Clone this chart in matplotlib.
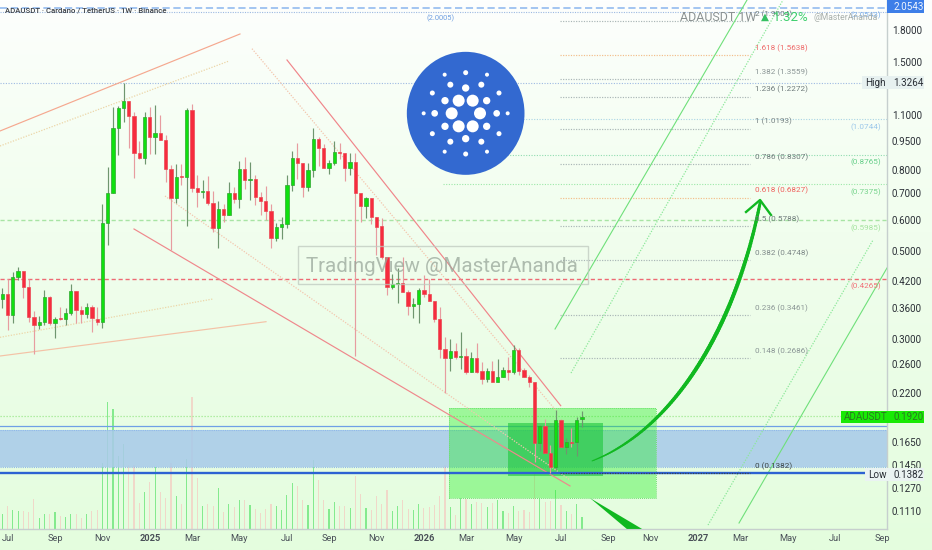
import numpy as np
import matplotlib
matplotlib.use("Agg")
import matplotlib.pyplot as plt
from matplotlib.patches import Rectangle, Ellipse, Circle, Polygon
from matplotlib.transforms import Affine2D
from matplotlib.collections import LineCollection
from matplotlib.ticker import NullLocator

plt.rcParams['font.family'] = ['Roboto', 'DejaVu Sans']

# ---------- data: weekly ADAUSDT candles, week 0 = 24 Jun 2024 ----------
opens = [.3784,.3903,.3456,.4299,.4452,.4057,.3422,.3261,.3325,.3829,.3293,.3389,.3370,.3503,.3964,.3557,.3469,.3627,.3383,.3325,.5881,.6999,1.0204,1.1503,1.1957,1.0982,.8826,.8574,1.0918,.9685,
.9912,.9536,.8044,.6799,.7724,.7679,1.1349,.7205,.7039,.7094,.6604,.5735,.6378,.6172,.6999,.6759,.8044,.7576,.7591,.6838,.6681,.6317,.5412,.5746,.5847,.7360,.8574,.8329,.7247,.8013,
.9610,.9086,.8091,.8329,.8895,.8861,.8091,.8377,.6999,.6516,.6799,.6089,.5791,.4828,.4073,.4136,.4152,.3941,.3648,.3676,.3995,.3903,.3748,.3376,.2843,.2688,.2804,.2714,.2724,.2478,
.2698,.2497,.2384,.2497,.2347,.2407,.2512,.2478,.2821,.2512,.2416,.2347,.1642,.1819,.1555,.1428,.1879,.1610,.1654,.1651,.1887]
highs = [.4034,.4250,.4443,.4556,.4452,.4250,.3544,.3436,.3995,.3858,.3422,.3627,.3592,.4136,.3964,.3641,.3698,.3662,.3627,.6579,.8169,1.1570,1.1615,1.3298,1.1957,1.1239,.9499,1.1196,1.1526,1.1683,
1.1024,.9817,.8249,.8297,.8297,1.1459,1.1751,.7784,.7561,.7739,.7094,.6694,.6579,.7460,.7275,.8459,.8624,.8410,.7784,.7067,.7303,.6566,.5904,.6113,.7784,.8964,.9354,.8329,.8329,1.0204,
.9685,.9317,.8492,.9499,.9354,.8861,.8826,.8826,.6999,.6865,.6799,.6089,.6054,.4828,.4383,.4530,.4828,.3995,.3806,.4034,.4358,.4250,.3748,.3627,.3036,.3001,.2932,.3125,.2848,.2794,
.2943,.2636,.2536,.2646,.2672,.2561,.2714,.2904,.2848,.2536,.2440,.2347,.1826,.1887,.1626,.1992,.1887,.1690,.1798,.1909,.1984]
lows = [.3592,.3168,.3293,.4233,.3806,.3325,.2756,.3180,.3261,.3261,.3030,.3357,.3261,.3456,.3293,.3293,.3389,.3137,.3261,.3198,.5186,.6999,.8741,1.0565,.9086,.7635,.8524,.8297,.8792,.8792,
.9536,.7489,.5038,.6604,.7345,.5802,.7067,.6478,.6799,.6541,.5582,.5107,.5915,.6172,.6630,.6416,.7163,.6733,.6541,.6172,.5996,.5087,.5318,.5360,.5713,.7108,.7591,.6838,.7108,.7679,
.8201,.8091,.7829,.8249,.8524,.7532,.7784,.2724,.5915,.6054,.5858,.4894,.4773,.3881,.4018,.3698,.3941,.3456,.3389,.3293,.3843,.3748,.3325,.2688,.2202,.2502,.2672,.2521,.2454,.2478,
.2464,.2316,.2338,.2347,.2347,.2407,.2370,.2454,.2440,.2407,.2271,.1476,.1573,.1555,.1379,.1406,.1610,.1543,.1604,.1525,.1801]
closes = [.3903,.3456,.4299,.4452,.4057,.3422,.3261,.3325,.3829,.3293,.3370,.3370,.3503,.3964,.3557,.3469,.3627,.3389,.3325,.5881,.6999,1.0204,1.1503,1.1957,1.0982,.8826,.8574,1.0918,.9685,.9912,
.9536,.8044,.6799,.7709,.7709,1.1349,.7205,.7039,.7080,.6604,.5735,.6378,.6172,.6999,.6759,.8044,.7561,.7605,.6838,.6681,.6329,.5412,.5746,.5847,.7360,.8574,.8329,.7247,.8013,.9610,
.9086,.8091,.8329,.8878,.8843,.8091,.8377,.6999,.6516,.6799,.6113,.5768,.4828,.4073,.4128,.4152,.3941,.3648,.3676,.3995,.3903,.3748,.3376,.2843,.2688,.2804,.2714,.2724,.2478,.2698,
.2488,.2384,.2497,.2347,.2407,.2512,.2488,.2821,.2502,.2416,.2347,.1642,.1815,.1555,.1428,.1879,.1610,.1651,.1648,.1879,.1909]
# relative weekly volume
volumes = [46,70,58,54,55,50,90,34,46,45,52,40,37,45,46,32,46,53,56,198,380,360,218,256,193,193,78,111,140,186,
110,93,198,100,75,211,396,153,70,75,68,123,50,75,66,86,88,72,59,48,61,76,68,58,101,138,130,86,71,208,
148,88,61,82,68,70,64,160,106,63,58,100,76,116,53,70,88,61,56,75,63,66,71,98,192,67,42,92,89,75,
80,77,65,79,87,53,47,69,54,57,52,172,92,80,85,117,72,54,45,75,37]

price_ticks = [1.8,1.5,1.1,.95,.8,.7,.6,.5,.42,.36,.3,.26,.22,.165,.145,.127,.111]
time_ticks = [1,10,19,28,36,45,54,62,71,80,88,97,106,115,123,132,140,149,158,167]
time_labels = ['Jul','Sep','Nov','2025','Mar','May','Jul','Sep','Nov','2026','Mar','May','Jul','Sep','Nov','2027','Mar','May','Jul','Sep']

fib_levels = ['2','1.618','1.382','1.236','1','0.786','0.618','0.5','0.382','0.236','0.148','0']
fib_prices = [1.9004,1.5638,1.3559,1.2272,1.0193,.8307,.6827,.5788,.4748,.3461,.2686,.1382]
fib_colors = ['#6f7b7b','#ef6a6a','#8b9696','#6f7b7b','#7b8686','#6f7b7b','#f0605c','#6f7b7b','#7d8888','#8b9696','#8b9696','#3c4646']
line_colors = ['#a9b6b6','#f3bd8a','#a9b6b6','#a9b6b6','#a9b6b6','#a9b6b6','#f3bd8a','#a9b6b6','#a9b6b6','#a9b6b6','#a9b6b6','#39424a']

side_prices = [2.0543,1.0744,.8765,.7375,.5985,.4265]
side_colors = ['#7fb0ea','#9cc8ea','#67cf8a','#78d48c','#a5e3a0','#f2717a']
side_lines = ['#9ec4ee','#a9d4e4','#90dcb0','#9ce8a8','#a8e4a4','#ee6a74']
side_starts = [-0.44,83.6,83.6,83.6,-0.44,-0.44]

last_price = .1920
high_price = 1.3264
low_price = .1382
mid_fib = 2.0005
band_top_line = .1818
band = (.1431, .1773)
box_outer = (84.8, 124.0, .1193, .2011)
box_inner = (95.9, 113.9, .1360, .1844)

trend_solid = [((-0.44,1.0047,45.10,1.7636),'#f5a88f',.85),((-0.44,.2724,50.04,.3324),'#f4c2a6',.85),
               ((54.02,1.5167,105.96,.2042),'#f0858a',.85),((24.99,.5691,107.72,.1282),'#ef888c',.85),
               ((104.88,.3186,141.31,2.1481),'#6fe07a',.8),((139.79,.1034,167.87,.4539),'#6fe07a',.8)]
trend_dotted = [((-0.44,.9210,43.02,1.5079),'#ecd6a8'),((-0.44,.3036,39.98,.3792),'#ecd6a8'),
                ((47.38,1.6194,105.45,.1957),'#f3c6ae'),((30.87,.6891,107.72,.1327),'#f3c6ae'),
                ((107.91,.2468,148.14,2.1481),'#8ce89a'),((133.91,.1022,165.22,.5339),'#8ce89a')]
curve_weeks = [111.90,127.08,139.03,143.78]
curve_prices = [.1482,.1773,.3168,.6617]
head_weeks = [141.12,143.78,145.86]
head_prices = [.6281,.6733,.6172]
lower_weeks = [111.52,121.39,118.5]
lower_prices = [.1195,.0999,.0999]

logo_dots = [(176,152,18),(218,152,18),(155,190,18),(240,190,18),(176,229,18),(218,229,18),
             (135,152,11),(260,152,11),(104,190,10),(290,190,10),(135,229,11),(260,229,11),(197,114,11),(197,266,11),
             (151,104,9),(244,104,9),(151,275,9),(244,275,9),(97,129,7.5),(297,129,7.5),(97,251,7.5),(297,251,7.5),
             (197,68,7.5),(197,312,7.5),(71,190,6),(323,190,6),(134,74,6),(261,74,6),(134,305,6),(261,305,6)]

# ---------- layout ----------
W, H = 932, 550
fig = plt.figure(figsize=(W/100, H/100), dpi=100)
px = Affine2D().scale(1, -1).translate(0, H)

bg = fig.add_axes([0, 0, 1, 1], zorder=0)
t = np.linspace(0, 1, 256)[:, None]
c0, c1 = np.array([254, 255, 254])/255, np.array([228, 253, 222])/255
grad = (c0[None, None, :]*(1 - t[:, :, None]**0.8) + c1[None, None, :]*t[:, :, None]**0.8)
bg.imshow(grad, aspect='auto', extent=(0, 1, 0, 1), origin='upper')
bg.axis('off')

pos = [0, 21/H, 887/W, 529/H]
xlim = (-0.436, 167.87)
vol = fig.add_axes(pos, zorder=1, facecolor='none')
vol.set_xlim(*xlim); vol.set_ylim(0, 1587)
vol.axis('off')
ax = fig.add_axes(pos, zorder=2, facecolor='none')
ax.set_yscale('log')
ax.set_xlim(*xlim); ax.set_ylim(.09987, 2.148)

weeks = np.arange(len(opens))
op, hi, lo, cl = map(np.array, (opens, highs, lows, closes))
up = cl >= op

vol.bar(weeks[up], np.array(volumes)[up], width=0.22, color='#84ea8e')
vol.bar(weeks[~up], np.array(volumes)[~up], width=0.22, color='#f0d8c9')

# band, price lines
ax.fill_between(xlim, band[0], band[1], color='#a9cbe9', alpha=.88, lw=0, zorder=1)
for p in band:
    ax.axhline(p, color='#8fb8ea', lw=.8, ls=(0, (1, 1)), zorder=1.1)
ax.axhline(band_top_line, color='#6f9fe6', lw=.9, zorder=1.1)
ax.axhline(side_prices[0], color='#9cc0f0', lw=1.3, ls=(0, (4, 2)), zorder=1.1)
ax.axhline(mid_fib, color='#9db9e2', lw=.8, ls=(0, (1, 1.2)), zorder=1.1)
ax.axhline(high_price, color='#9db9e2', lw=.8, ls=(0, (1, 1.4)), zorder=1.1)
ax.axhline(last_price, color='#9fe88f', lw=.9, ls=(0, (1, 1.4)), zorder=1.1)
ax.plot([xlim[0], 164.0], [low_price, low_price], color='#2d62d2', lw=1.7, zorder=2.6)

for p, c, s in zip(side_prices[1:], side_lines[1:], side_starts[1:]):
    ls = (0, (3, 2)) if s < 0 else (0, (1, 1.4))
    ax.plot([s, 167.8], [p, p], color=c, lw=1.0 if s < 0 else .8, ls=ls, zorder=1.2)
for p, c in zip(fib_prices, line_colors):
    ax.plot([105.8, 141.9], [p, p], color=c, lw=.85, ls=(0, (1, 1.2)), zorder=2.7 if p == low_price else 1.3)

# boxes
x0, x1, y0, y1 = box_outer
ax.add_patch(Rectangle((x0, y0), x1-x0, y1-y0, fc='#22ee22', alpha=.38, ec='none', zorder=1.5))
ax.add_patch(Rectangle((x0, y0), x1-x0, y1-y0, fc='none', ec='#6fe06f', lw=.7, ls=(0, (1, 1)), zorder=1.5))
x0, x1, y0, y1 = box_inner
ax.add_patch(Rectangle((x0, y0), x1-x0, y1-y0, fc='#1fc83e', alpha=.62, ec='none', zorder=1.6))

# trend lines
for (a, b, c, d), col, lw in trend_solid:
    ax.plot([a, c], [b, d], color=col, lw=lw, zorder=1.8)
for (a, b, c, d), col in trend_dotted:
    ax.plot([a, c], [b, d], color=col, lw=.9, ls=(0, (1, 1.2)), zorder=1.8)

# candles
ax.vlines(weeks[up], lo[up], hi[up], color='#6f966f', lw=.85, zorder=3)
ax.vlines(weeks[~up], lo[~up], hi[~up], color='#e79ca0', lw=.85, zorder=3)
ax.bar(weeks[up], (cl-op)[up], bottom=op[up], width=.62, color='#0fe00f', edgecolor='#2fa52f', lw=.5, zorder=3.2)
ax.bar(weeks[~up], (op-cl)[~up], bottom=cl[~up], width=.62, color='#f62c3e', edgecolor='#ea4a55', lw=.5, zorder=3.2)

# drawn arrow
u = np.linspace(0, 1, 120)[:, None]
b = np.array([(1-u)**3, 3*u*(1-u)**2, 3*u**2*(1-u), u**3])[:, :, 0].T
cx = b @ np.array(curve_weeks)
cy = np.exp(b @ np.log(curve_prices))
segs = np.stack([np.c_[cx[:-1], cy[:-1]], np.c_[cx[1:], cy[1:]]], axis=1)
w = 0.7 + 2.2*np.sin(np.pi*np.clip(u[:-1, 0], 0, 1)*0.8)**0.8
ax.add_collection(LineCollection(segs, colors='#10b820', linewidths=w, capstyle='round', zorder=4))
ax.plot(head_weeks, head_prices, color='#10b820', lw=1.7, zorder=4)
ax.add_patch(Polygon(np.c_[lower_weeks, lower_prices], closed=True, fc='#10b820', ec='none', zorder=4))

# fib labels
for lev, p, c in zip(fib_levels, fib_prices, fib_colors):
    ax.annotate(f'{lev} ({p:.4f})', (142.8, p), xytext=(0, 5), textcoords='offset points',
                color=c, fontsize=5.9, va='center', ha='left', zorder=5, annotation_clip=False)
for p, c in zip(side_prices, side_colors):
    ax.annotate(f'({p:.4f})', (166.7, p), xytext=(0, -5.5), textcoords='offset points',
                color=c, fontsize=5.9, va='center', ha='right', zorder=5)
ax.annotate(f'({mid_fib:.4f})', (83.2, mid_fib), xytext=(0, -4.3), textcoords='offset points',
            color='#6f9fe0', fontsize=5.4, va='center', ha='center', zorder=5)

# axes furniture
for s in ('left', 'top'):
    ax.spines[s].set_visible(False)
for s in ('right', 'bottom'):
    ax.spines[s].set_color('#c6cfce'); ax.spines[s].set_linewidth(1)
ax.yaxis.tick_right()
ax.yaxis.set_minor_locator(NullLocator())
ax.set_yticks(price_ticks)
ax.set_yticklabels([f'{p:.4f}' for p in price_ticks], fontsize=7.1, color='#2a2f36')
ax.set_xticks(time_ticks)
ax.set_xticklabels(time_labels, fontsize=6.7, color='#4a5058')
for lab, txt_ in zip(ax.get_xticklabels(), time_labels):
    if txt_.startswith('20'):
        lab.set_fontweight('bold')
ax.tick_params(axis='both', length=0)
ax.tick_params(axis='y', pad=3.6)
ax.tick_params(axis='x', pad=3.6)

# logo
logo = fig.add_axes([400/W, 1-180/H, 130/W, 130/H], zorder=3, facecolor='none')
logo.set_xlim(0, 390); logo.set_ylim(390, 0); logo.axis('off')
logo.add_patch(Ellipse((197, 190), 353, 369, fc='#3369d0', ec='none'))
for x, y, r in logo_dots:
    logo.add_patch(Circle((x, y), r, fc='white', ec='none'))

# figure-level overlays
def box(x0, y0, x1, y1, **kw):
    fig.add_artist(Rectangle((x0, y0), x1-x0, y1-y0, transform=px, zorder=6, **kw))
def txt(x, y, s, **kw):
    kw.setdefault('va', 'center')
    fig.text(x, y, s, transform=px, zorder=7, **kw)

box(887, 0, 924, 13, fc='#3d7ee8', ec='none')
txt(893, 7, '2.0543', color='#eef4ff', fontsize=7.1)
box(862, 76, 924, 89, fc='#e7f1f0', ec='none')
txt(865, 82.5, 'High', color='#2a2f36', fontsize=7.1)
txt(893, 83, '1.3264', color='#2a2f36', fontsize=7.1)
box(840.7, 411, 924, 423, fc='#18ea05', ec='none')
txt(844, 417, 'ADAUSDT', color='#2a7a20', fontsize=7.1)
txt(893, 417, '0.1920', color='#2a7a20', fontsize=7.1)
box(865, 468, 924, 481, fc='#eaf3f2', ec='none')
txt(868, 474.5, 'Low', color='#2a2f36', fontsize=7.1)
txt(893, 474.5, '0.1382', color='#2a2f36', fontsize=7.1)

txt(5, 10.5, 'ADAUSDT · Cardano / TetherUS · 1W · Binance', color='#3a3f46', fontsize=5.6, fontweight='medium')
txt(680.5, 17.5, 'ADAUSDT 1W', color='#8b9292', fontsize=8.9)
txt(761, 17, '▲', color='#35c062', fontsize=7.5, ha='left', family=['DejaVu Sans'])
txt(773, 17.5, '1.32%', color='#3ecf6e', fontsize=9.6)
txt(814, 17.5, '@MasterAnanda', color='#a9b0ac', fontsize=6.2)

box(298, 246, 587.7, 284, fc='none', ec='#bfc9bf', lw=1, alpha=.75)
txt(306.5, 266, 'TradingView @MasterAnanda', color='#98a69a', alpha=.75, fontsize=14.8)

fig.savefig('out.png', dpi=100)
